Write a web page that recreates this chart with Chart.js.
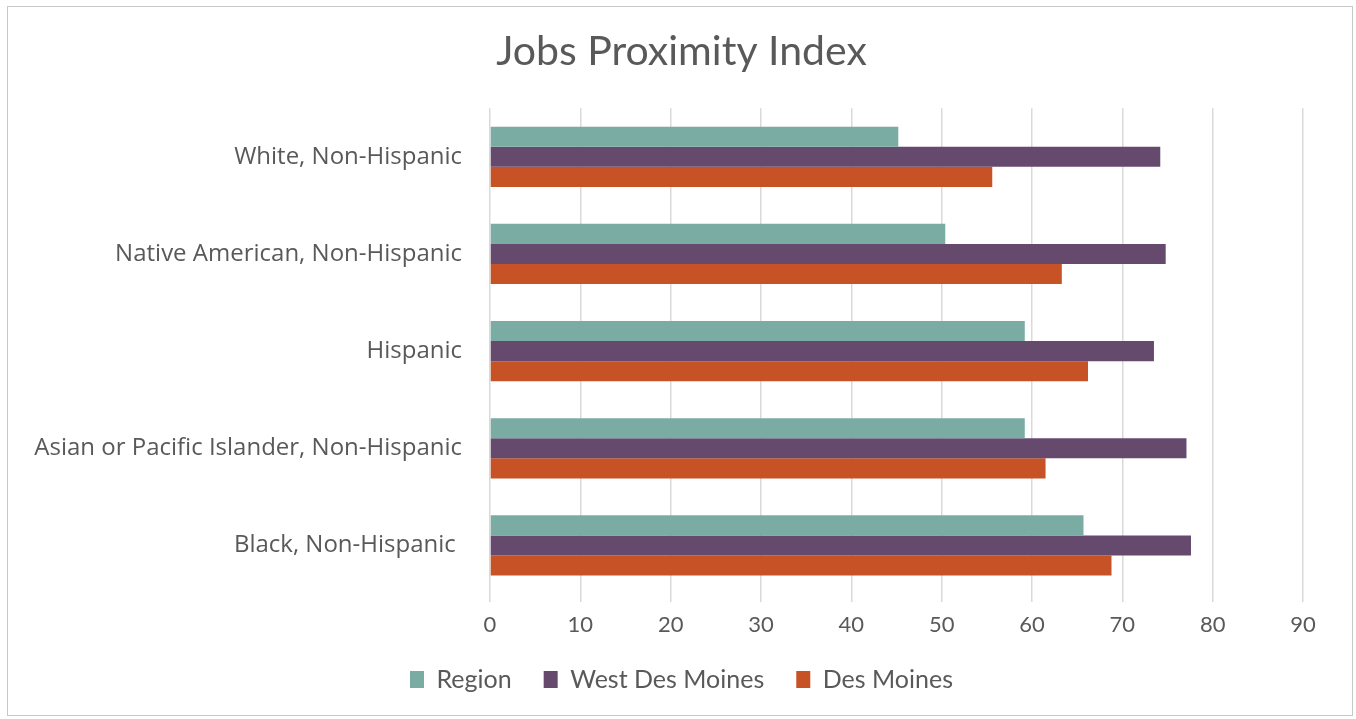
<!DOCTYPE html>
<html>
<head>
<meta charset="utf-8">
<script src="https://cdn.jsdelivr.net/npm/chart.js@4"></script>
<style>
  html, body { margin: 0; padding: 0; background: #ffffff; }
  #frame { position: absolute; left: 7px; top: 6px; width: 1344px; height: 708px; border: 1px solid #c8c8c8; }
  #wrap { position: absolute; left: 0; top: 0; width: 1356px; height: 719px; }
</style>
</head>
<body>
<div id="frame"></div>
<div id="wrap"><canvas id="chart" width="1356" height="719"></canvas></div>
<script>
// categories, top to bottom
const categories = [
    'White, Non-Hispanic',
    'Native American, Non-Hispanic',
    'Hispanic',
    'Asian or Pacific Islander, Non-Hispanic',
    'Black, Non-Hispanic '
];
const regionValues = [45.2, 50.4, 59.2, 59.2, 65.7];
const westDesMoinesValues = [74.2, 74.8, 73.5, 77.1, 77.6];
const desMoinesValues = [55.6, 63.3, 66.2, 61.5, 68.8];
const xTickValues = [0, 10, 20, 30, 40, 50, 60, 70, 80, 90];

const textGrey = '#595959';
const calibriLike = 'Lato, "Liberation Sans", sans-serif';

// title and legend are centred on the whole frame, not on the area left of the right margin
const centreOnFrame = {
    id: 'centreOnFrame',
    afterLayout(chart) {
        chart.titleBlock.left += 60;
        chart.legend.left += 60;
    }
};

const ctx = document.getElementById('chart').getContext('2d');
new Chart(ctx, {
    type: 'bar',
    data: {
        labels: categories,
        datasets: [
            {
                label: 'Region',
                data: regionValues,
                backgroundColor: '#7aaca4', // teal
                borderWidth: 0
            },
            {
                label: 'West Des Moines',
                data: westDesMoinesValues,
                backgroundColor: '#654a6e', // purple
                borderWidth: 0
            },
            {
                label: 'Des Moines',
                data: desMoinesValues,
                backgroundColor: '#c65225', // orange
                borderWidth: 0
            }
        ]
    },
    plugins: [centreOnFrame],
    options: {
        indexAxis: 'y',
        responsive: false,
        animation: false,
        datasets: { bar: { categoryPercentage: 0.62, barPercentage: 1.0 } },
        layout: { padding: { top: 0, right: 53, bottom: 17, left: 0 } },
        plugins: {
            title: {
                display: true,
                text: 'Jobs Proximity Index',
                color: textGrey,
                font: { family: calibriLike, size: 41, weight: 'normal' },
                padding: { top: 27, bottom: 32 }
            },
            legend: {
                position: 'bottom',
                labels: {
                    color: textGrey,
                    font: { family: calibriLike, size: 25 },
                    boxWidth: 14,
                    boxHeight: 17,
                    padding: 32
                }
            },
            tooltip: { enabled: false }
        },
        scales: {
            x: {
                min: 0,
                max: 90,
                afterBuildTicks: (scale) => { scale.ticks = xTickValues.map(v => ({ value: v })); },
                afterFit: (scale) => { scale.height = 41; },
                grid: { color: '#d9d9d9', lineWidth: 1.5, tickLength: 8 },
                border: { display: false },
                ticks: {
                    color: textGrey,
                    font: { family: calibriLike, size: 22 },
                    padding: 10
                }
            },
            y: {
                afterFit: (scale) => { scale.width = 490; },
                grid: { display: false, drawTicks: false },
                border: { display: false },
                ticks: {
                    color: textGrey,
                    font: { family: '"Open Sans", sans-serif', size: 24 },
                    padding: 28
                }
            }
        }
    }
});
</script>
</body>
</html>
